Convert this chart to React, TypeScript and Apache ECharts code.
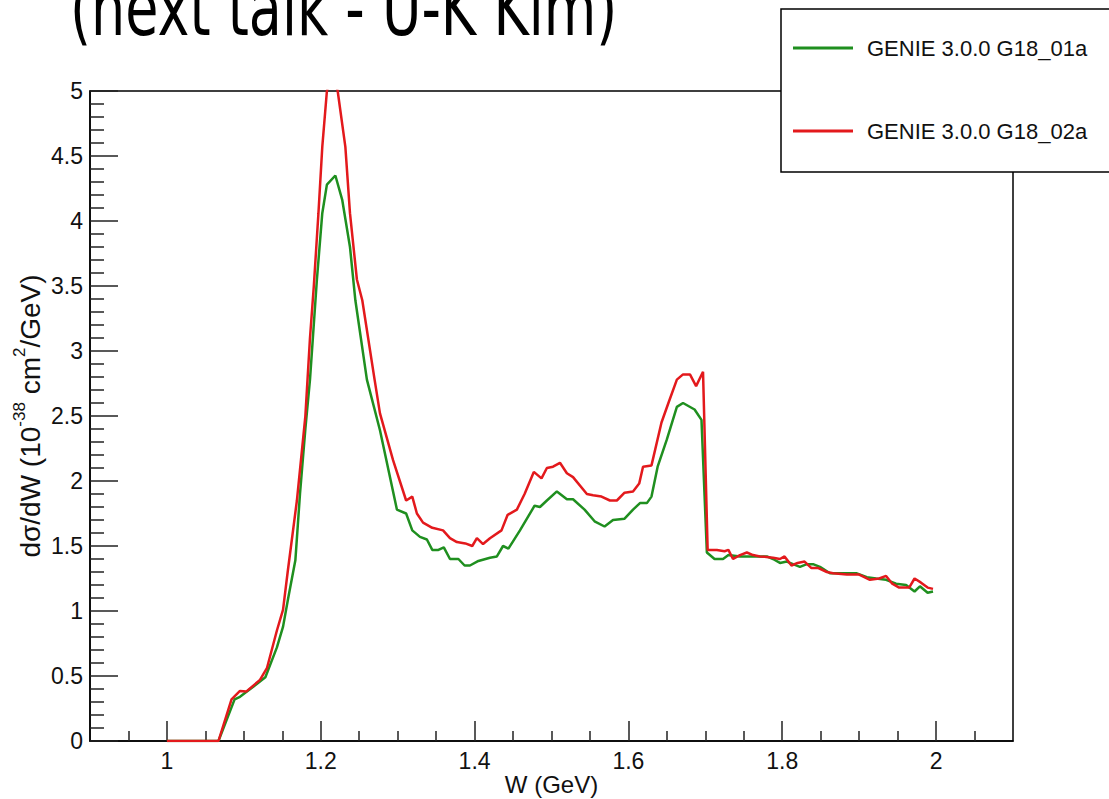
import React, { useEffect, useRef } from "react";
import * as echarts from "echarts";

// ---- data ----
const seriesNames = ["GENIE 3.0.0 G18_01a", "GENIE 3.0.0 G18_02a"];
const seriesColors = ["#1f8f1f", "#e3191c"];

const xMajorTicks = [1.0, 1.2, 1.4, 1.6, 1.8, 2.0];
const xMinorTicks = [0.95, 1.05, 1.1, 1.15, 1.25, 1.3, 1.35, 1.45, 1.5, 1.55, 1.65, 1.7, 1.75, 1.85, 1.9, 1.95, 2.05];

// G18_01a (green)
const wG18_01a = [
  1.0, 1.067, 1.088, 1.095, 1.104, 1.128, 1.143, 1.151, 1.158, 1.167, 1.173, 1.18, 1.186, 1.195, 1.202, 1.208,
  1.219, 1.228, 1.238, 1.245, 1.26, 1.277, 1.299, 1.311, 1.319, 1.329, 1.338, 1.345, 1.353, 1.36, 1.368, 1.379,
  1.387, 1.394, 1.405, 1.42, 1.429, 1.437, 1.444, 1.459, 1.478, 1.485, 1.494, 1.507, 1.52, 1.528, 1.543, 1.556,
  1.569, 1.58, 1.595, 1.606, 1.615, 1.624, 1.63, 1.638, 1.65, 1.663, 1.671, 1.686, 1.695, 1.702, 1.712, 1.723,
  1.73, 1.745, 1.762, 1.78, 1.788, 1.797, 1.806, 1.814, 1.823, 1.832, 1.84, 1.849, 1.862, 1.884, 1.897, 1.91,
  1.922, 1.935, 1.948, 1.961, 1.972, 1.979, 1.989, 1.996,
];
const xsG18_01a = [
  0, 0, 0.32, 0.34, 0.38, 0.49, 0.72, 0.88, 1.11, 1.39, 1.9, 2.4, 2.78, 3.55, 4.06, 4.28,
  4.35, 4.16, 3.8, 3.39, 2.78, 2.39, 1.78, 1.75, 1.62, 1.57, 1.55, 1.47, 1.47, 1.49, 1.4, 1.4,
  1.35, 1.35, 1.385, 1.41, 1.42, 1.5, 1.48, 1.62, 1.81, 1.8, 1.85, 1.92, 1.86, 1.86, 1.78, 1.69,
  1.65, 1.7, 1.71, 1.78, 1.83, 1.83, 1.88, 2.11, 2.32, 2.57, 2.6, 2.55, 2.47, 1.45, 1.4, 1.4,
  1.43, 1.42, 1.42, 1.42, 1.4, 1.37, 1.38, 1.36, 1.34, 1.36, 1.36, 1.34, 1.29, 1.29, 1.29, 1.26,
  1.25, 1.24, 1.21, 1.2, 1.15, 1.19, 1.14, 1.15,
];

// G18_02a (red)
const wG18_02a = [
  1.0, 1.067, 1.084, 1.095, 1.103, 1.121, 1.13, 1.143, 1.151, 1.157, 1.169, 1.18, 1.186, 1.191, 1.197, 1.202,
  1.208, 1.215, 1.222, 1.232, 1.238, 1.247, 1.254, 1.27, 1.277, 1.294, 1.311, 1.319, 1.325, 1.333, 1.345, 1.359,
  1.368, 1.377, 1.388, 1.397, 1.403, 1.411, 1.42, 1.435, 1.443, 1.455, 1.465, 1.477, 1.487, 1.494, 1.502, 1.511,
  1.52, 1.528, 1.546, 1.554, 1.565, 1.576, 1.585, 1.595, 1.606, 1.614, 1.619, 1.63, 1.643, 1.652, 1.663, 1.671,
  1.68, 1.688, 1.697, 1.703, 1.715, 1.725, 1.73, 1.736, 1.745, 1.754, 1.762, 1.771, 1.788, 1.797, 1.803, 1.812,
  1.82, 1.829, 1.838, 1.847, 1.858, 1.866, 1.884, 1.9, 1.914, 1.926, 1.935, 1.943, 1.952, 1.965, 1.972, 1.98,
  1.989, 1.996,
];
const xsG18_02a = [
  0, 0, 0.32, 0.385, 0.38, 0.47, 0.56, 0.85, 1.01, 1.3, 1.85, 2.5, 3.1, 3.5, 4.06, 4.57,
  5.0, 5.15, 5.0, 4.57, 4.06, 3.55, 3.39, 2.78, 2.52, 2.16, 1.85, 1.88, 1.75, 1.68, 1.64, 1.62,
  1.56, 1.53, 1.52, 1.5, 1.56, 1.515, 1.56, 1.62, 1.74, 1.78, 1.9, 2.07, 2.02, 2.1, 2.11, 2.14,
  2.06, 2.03, 1.9, 1.89, 1.88, 1.85, 1.85, 1.91, 1.92, 1.98, 2.11, 2.12, 2.45, 2.6, 2.78, 2.82,
  2.82, 2.73, 2.84, 1.47, 1.47, 1.46, 1.47, 1.4, 1.43, 1.45, 1.43, 1.42, 1.41, 1.4, 1.42, 1.35,
  1.37, 1.38, 1.33, 1.33, 1.3, 1.29, 1.28, 1.28, 1.24, 1.25, 1.27, 1.21, 1.18, 1.18, 1.25, 1.22,
  1.18, 1.17,
];

const zip = (xs: number[], ys: number[]) => xs.map((x, i) => [x, ys[i]]);

const LABEL_FONT = "'Liberation Sans', Arial, Helvetica, sans-serif";

export default function App() {
  const ref = useRef<HTMLDivElement>(null);

  useEffect(() => {
    if (!ref.current) return;
    const chart = echarts.init(ref.current, null, { renderer: "svg" });
    const tickLine = { color: "#222", width: 1.5 };
    const option: any = {
      animation: false,
      backgroundColor: "#fff",
      grid: {
        left: 90,
        top: 91,
        width: 923,
        height: 650,
        show: true,
        borderColor: "#000",
        borderWidth: 1.5,
        backgroundColor: "transparent",
        containLabel: false,
        outerBoundsMode: "none",
      },
      graphic: [
        {
          type: "text",
          x: 70,
          y: 9,
          scaleX: 0.71,
          z: 30,
          style: {
            text: "(next talk - U-K Kim)",
            fontSize: 76,
            fontFamily: "'DejaVu Sans', Verdana, sans-serif",
            fill: "#000",
            align: "left",
            verticalAlign: "middle",
          },
        },
        {
          type: "rect",
          z: 10,
          shape: { x: 781, y: 9, width: 360, height: 163 },
          style: { fill: "#fff", stroke: "#000", lineWidth: 1.5 },
        },
      ],
      legend: {
        orient: "vertical",
        left: 793,
        top: 36,
        padding: 0,
        itemGap: 59,
        itemWidth: 60,
        itemHeight: 3,
        icon: "rect",
        selectedMode: false,
        z: 20,
        data: seriesNames,
        textStyle: {
          fontSize: 22,
          lineHeight: 24,
          fontFamily: LABEL_FONT,
          color: "#111",
          padding: [0, 0, 0, 9],
        },
      },
      xAxis: [
        {
          type: "value",
          min: 0.9,
          max: 2.1,
          position: "bottom",
          axisLine: { show: true, onZero: false, lineStyle: { color: "#000", width: 1.5 } },
          axisTick: { show: true, inside: true, length: 20, customValues: xMajorTicks, lineStyle: tickLine },
          axisLabel: {
            customValues: xMajorTicks,
            fontSize: 23,
            fontFamily: LABEL_FONT,
            color: "#111",
            margin: 8,
          },
          splitLine: { show: false },
          name: "W (GeV)",
          nameLocation: "middle",
          nameGap: 31,
          nameMoveOverlap: false,
          nameTextStyle: { fontSize: 24, fontFamily: LABEL_FONT, color: "#111" },
        },
        {
          type: "value",
          min: 0.9,
          max: 2.1,
          position: "bottom",
          axisLine: { show: false, onZero: false },
          axisTick: { show: true, inside: true, length: 10, customValues: xMinorTicks, lineStyle: tickLine },
          axisLabel: { show: false },
          splitLine: { show: false },
        },
      ],
      yAxis: {
        type: "value",
        min: 0,
        max: 5,
        interval: 0.5,
        axisLine: { show: true, onZero: false, lineStyle: { color: "#000", width: 1.5 } },
        axisTick: { show: true, inside: true, length: 28, lineStyle: tickLine },
        minorTick: { show: true, splitNumber: 5, length: 14, lineStyle: tickLine },
        axisLabel: { fontSize: 23, fontFamily: LABEL_FONT, color: "#111", margin: 7 },
        splitLine: { show: false },
        minorSplitLine: { show: false },
        name: "dσ/dW (10{sup|-38} cm{sup|2}/GeV)",
        nameLocation: "middle",
        nameGap: 41,
        nameMoveOverlap: false,
        nameTextStyle: {
          fontSize: 28,
          lineHeight: 38,
          fontFamily: LABEL_FONT,
          color: "#111",
          rich: {
            sup: { fontSize: 17, lineHeight: 17, verticalAlign: "top", fontFamily: LABEL_FONT, color: "#111" },
          },
        },
      },
      series: [
        {
          name: seriesNames[0],
          type: "line",
          data: zip(wG18_01a, xsG18_01a),
          showSymbol: false,
          symbol: "none",
          clip: true,
          color: seriesColors[0],
          lineStyle: { width: 2.5, color: seriesColors[0] },
          z: 2,
        },
        {
          name: seriesNames[1],
          type: "line",
          data: zip(wG18_02a, xsG18_02a),
          showSymbol: false,
          symbol: "none",
          clip: true,
          color: seriesColors[1],
          lineStyle: { width: 2.5, color: seriesColors[1] },
          z: 3,
        },
      ],
    };
    chart.setOption(option);
    return () => chart.dispose();
  }, []);

  return (
    <div
      ref={ref}
      style={{ position: "fixed", left: 0, top: 0, width: 1109, height: 799, background: "#fff" }}
    />
  );
}
